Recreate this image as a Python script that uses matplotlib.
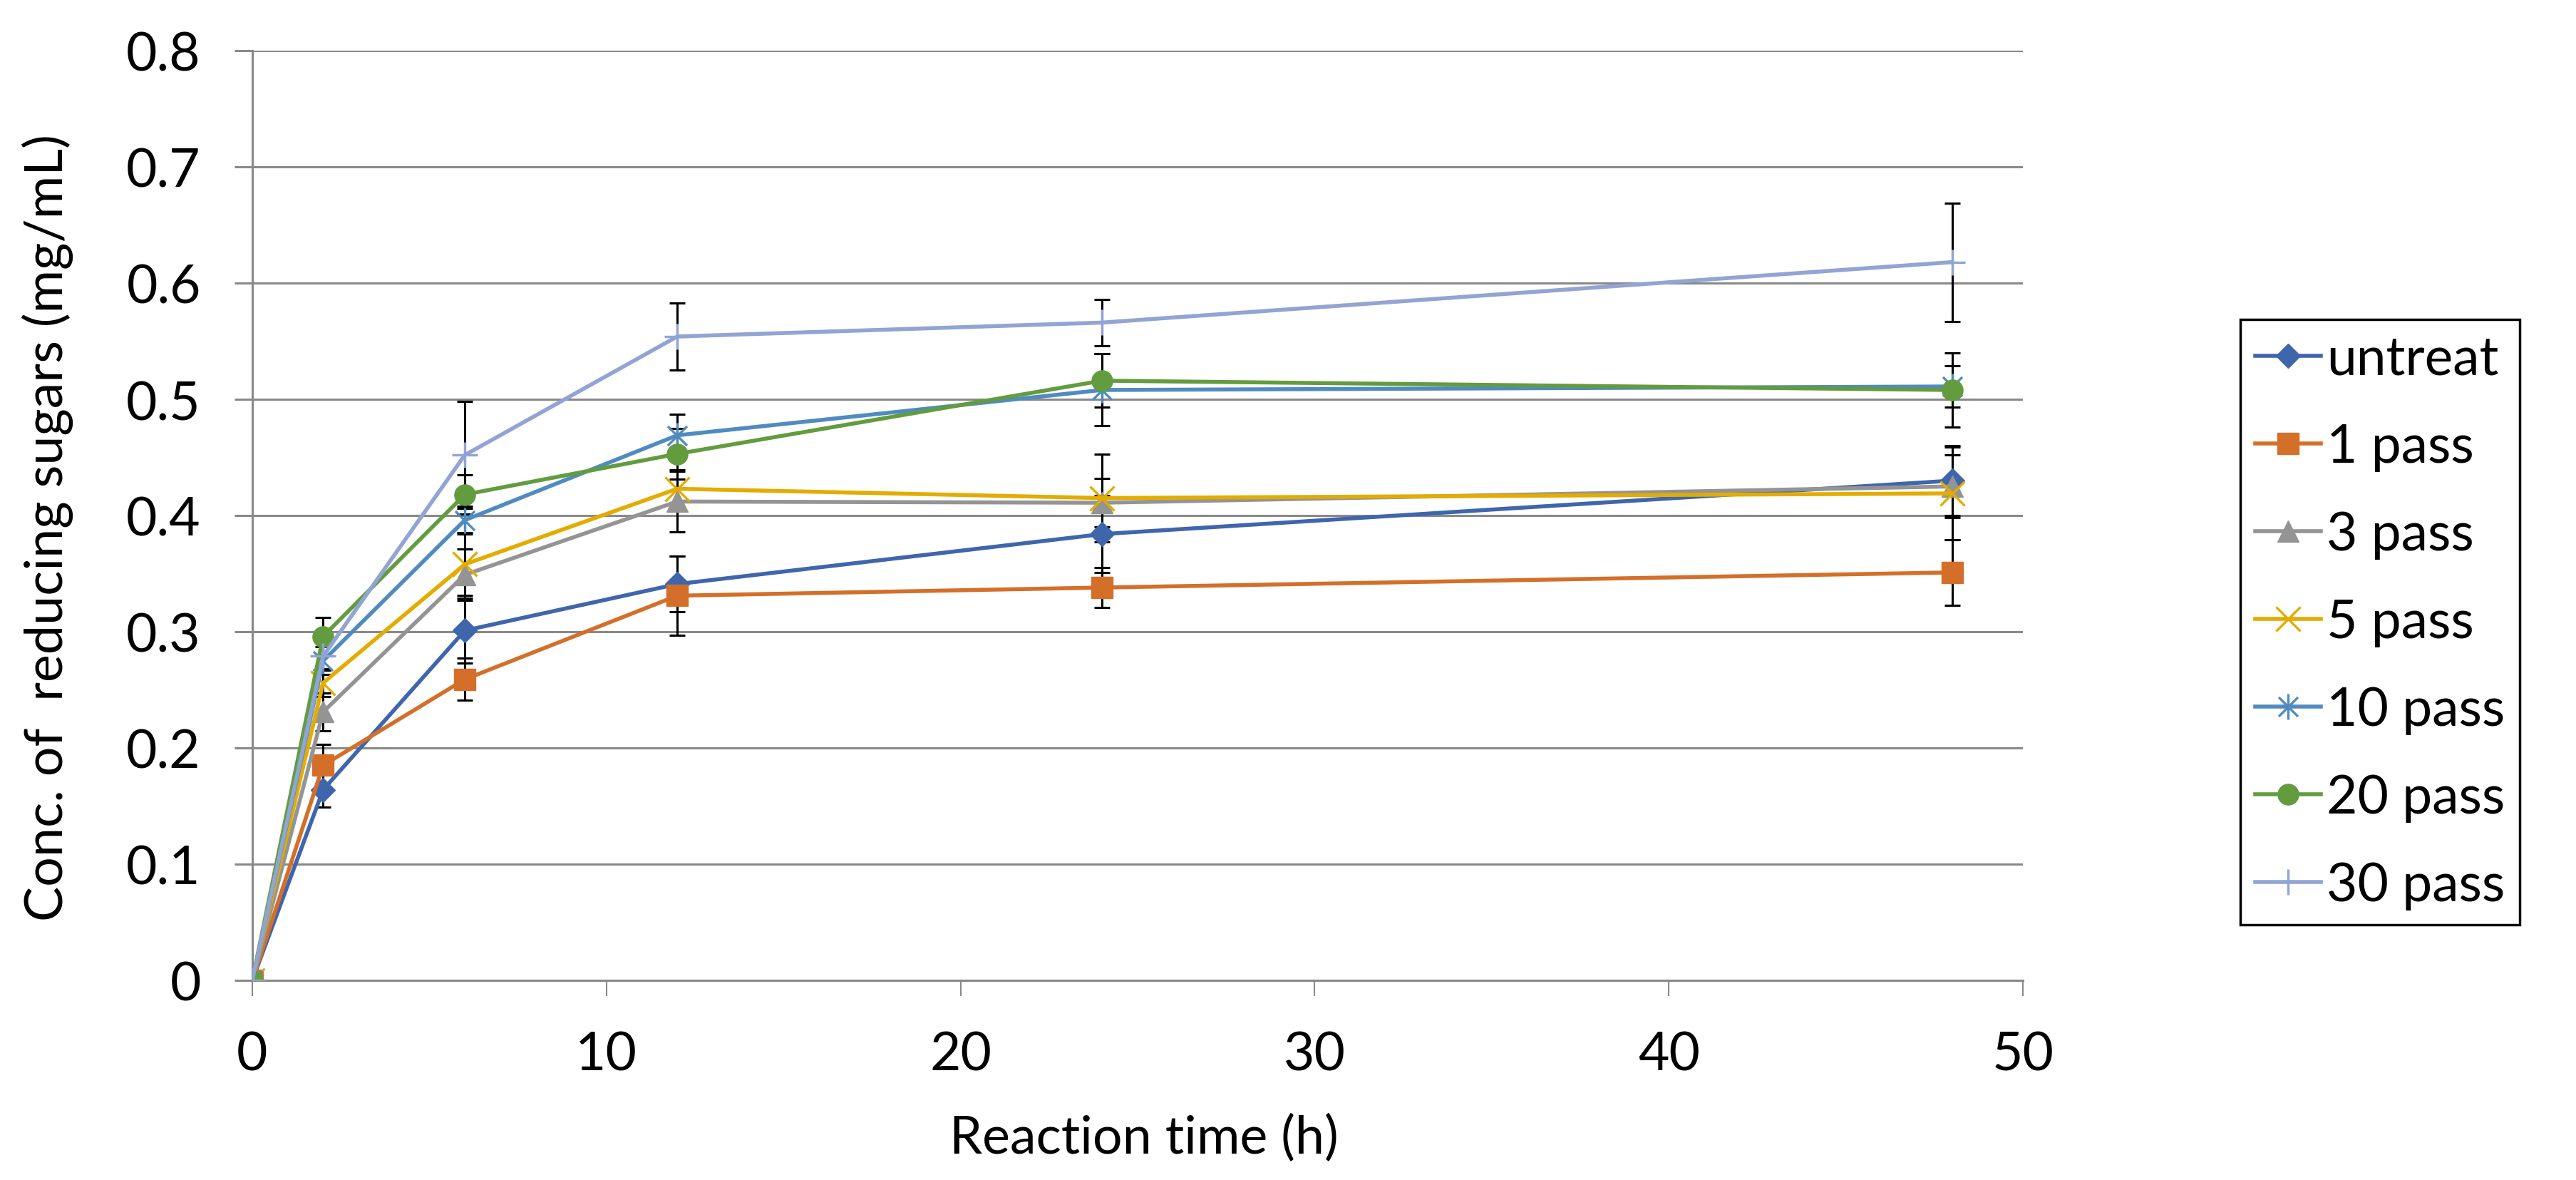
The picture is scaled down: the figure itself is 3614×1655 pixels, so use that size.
import numpy as np
import matplotlib
matplotlib.use("Agg")
import matplotlib.pyplot as plt
from matplotlib.path import Path

plt.rcParams['font.family'] = ['Lato', 'DejaVu Sans']

# reaction time (h)
time_h = [0, 2, 6, 12, 24, 48]

labels = ['untreat', '1 pass', '3 pass', '5 pass', '10 pass', '20 pass', '30 pass']

untreat = [0, 0.164, 0.301, 0.341, 0.384, 0.430]
pass_1 = [0, 0.185, 0.259, 0.331, 0.338, 0.351]
pass_3 = [0, 0.231, 0.349, 0.412, 0.411, 0.425]
pass_5 = [0, 0.256, 0.358, 0.423, 0.415, 0.419]
pass_10 = [0, 0.275, 0.396, 0.469, 0.508, 0.511]
pass_20 = [0, 0.296, 0.418, 0.453, 0.516, 0.508]
pass_30 = [0, 0.279, 0.452, 0.554, 0.566, 0.618]

err_untreat = [0, 0.015, 0.028, 0.024, 0.033, 0.030]
err_1 = [0, 0.018, 0.018, 0.034, 0.017, 0.028]
err_3 = [0, 0.016, 0.022, 0.026, 0.021, 0.027]
err_5 = [0, 0.012, 0.027, 0.016, 0.038, 0.040]
err_10 = [0, 0.012, 0.012, 0.018, 0.031, 0.018]
err_20 = [0, 0.016, 0.017, 0.022, 0.023, 0.032]
err_30 = [0, 0.012, 0.046, 0.029, 0.020, 0.051]

series = [untreat, pass_1, pass_3, pass_5, pass_10, pass_20, pass_30]
errors = [err_untreat, err_1, err_3, err_5, err_10, err_20, err_30]

colors = ['#3F65AD', '#D46F2A', '#949494', '#E2AC00', '#508BC0', '#629C3E', '#91A4D4']

# excel style star: an x with a vertical stroke
star = Path([(-0.75, -0.75), (0.75, 0.75), (-0.75, 0.75), (0.75, -0.75), (0, -1), (0, 1)],
            [Path.MOVETO, Path.LINETO, Path.MOVETO, Path.LINETO, Path.MOVETO, Path.LINETO])

markers = ['D', 's', '^', 'x', star, 'o', '+']
msizes = [17, 21, 22, 24, 26, 21, 26]
mew = [1, 1, 1, 2.4, 2.4, 1, 2.4]

W, H = 3614, 1656
fig = plt.figure(figsize=(W / 100, H / 100), dpi=100)
ax = fig.add_axes([354 / W, 1 - 1376 / H, (2838 - 354) / W, (1376 - 72) / H])

grid_c = '#898989'

handles = []
for i in range(len(series)):
    ax.errorbar(time_h, series[i], yerr=errors[i], fmt='none', ecolor='black',
                elinewidth=2.2, capsize=8, capthick=2.2, zorder=2)
for i in range(len(series)):
    h, = ax.plot(time_h, series[i], color=colors[i], lw=4, marker=markers[i],
                 markersize=msizes[i], markeredgewidth=mew[i], zorder=3 + i * 0.1,
                 label=labels[i])
    handles.append(h)

ax.set_xlim(0, 50)
ax.set_ylim(0, 0.8)
ax.set_xticks(np.arange(0, 51, 10))
ax.set_yticks(np.arange(0, 0.81, 0.1))
ax.set_yticklabels(['%g' % round(v, 1) for v in np.arange(0, 0.81, 0.1)])

ax.yaxis.grid(True, color=grid_c, lw=2.2)
ax.set_axisbelow(True)
for s in ['top', 'right']:
    ax.spines[s].set_visible(False)
for s in ['left', 'bottom']:
    ax.spines[s].set_color(grid_c)
    ax.spines[s].set_linewidth(2.2)

ax.tick_params(axis='x', direction='out', length=16, width=1.5, color=grid_c,
               labelsize=54, pad=34)
ax.tick_params(axis='y', direction='out', length=18, width=2.2, color=grid_c,
               labelsize=54, pad=34)

fig.text(1605 / W, 1 - 1618 / H, 'Reaction time (h)', ha='center', va='baseline', fontsize=53)
fig.text(67 / W, 1 - 740 / H, 'Conc. of  reducing sugars (mg/mL)', rotation=90,
         ha='center', va='center', fontsize=53)

leg = ax.legend(handles=handles, loc='lower left', bbox_to_anchor=(3143 / W, 1 - 1298 / H),
                bbox_transform=fig.transFigure, fontsize=54, frameon=True, fancybox=False,
                edgecolor='black', framealpha=1, borderpad=0.28, labelspacing=0.72,
                handlelength=1.22, handletextpad=0.11, borderaxespad=0)
leg.get_frame().set_linewidth(2.5)

fig.savefig('out.png', dpi=100)
